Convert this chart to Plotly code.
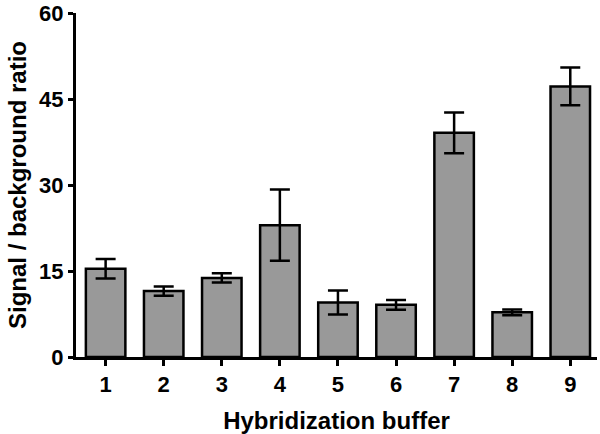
import plotly.graph_objects as go

# hybridization buffers and signal/background ratio (mean +/- error)
buffers = [1, 2, 3, 4, 5, 6, 7, 8, 9]
ratio = [15.4, 11.5, 13.8, 23.0, 9.5, 9.1, 39.1, 7.8, 47.2]
ratio_err = [1.7, 0.8, 0.8, 6.2, 2.1, 0.85, 3.55, 0.5, 3.3]
y_ticks = [0, 15, 30, 45, 60]

FONT = "Liberation Sans, Arial, sans-serif"

fig = go.Figure()
fig.add_trace(go.Bar(
    x=buffers, y=ratio, width=0.68,
    marker=dict(color="#999999", line=dict(color="black", width=2.5)),
    error_y=dict(type="data", array=ratio_err, visible=True,
                 color="black", thickness=2.5, width=10),
))

fig.update_layout(
    width=600, height=434,
    margin=dict(l=76, r=3, t=13, b=77),
    plot_bgcolor="white", paper_bgcolor="white",
    showlegend=False,
    font=dict(family=FONT, color="black"),
)
fig.update_xaxes(
    range=[0.49, 9.46], tickvals=buffers, ticktext=[str(b) for b in buffers],
    showline=True, linecolor="black", linewidth=3,
    ticks="outside", ticklen=6, tickwidth=3, tickcolor="black",
    tickfont=dict(size=22, family=FONT, weight="bold"),
    showgrid=False, zeroline=False, automargin=False,
    title=dict(text="<b>Hybridization buffer</b>", font=dict(size=24), standoff=18),
)
fig.update_yaxes(
    range=[0, 60], tickvals=y_ticks,
    showline=True, linecolor="black", linewidth=3,
    ticks="outside", ticklen=5, tickwidth=3, tickcolor="black",
    tickfont=dict(size=22, family=FONT, weight="bold"),
    ticklabeloverflow="allow",
    showgrid=False, zeroline=False, automargin=False,
    title=dict(text="<b>Signal / background ratio</b>", font=dict(size=24), standoff=6),
)

# drop the browser's default body margin so the figure sits at (0, 0)
fig.write_html("out.html", config={"displayModeBar": False},
               post_script="document.body.style.margin='0';")
